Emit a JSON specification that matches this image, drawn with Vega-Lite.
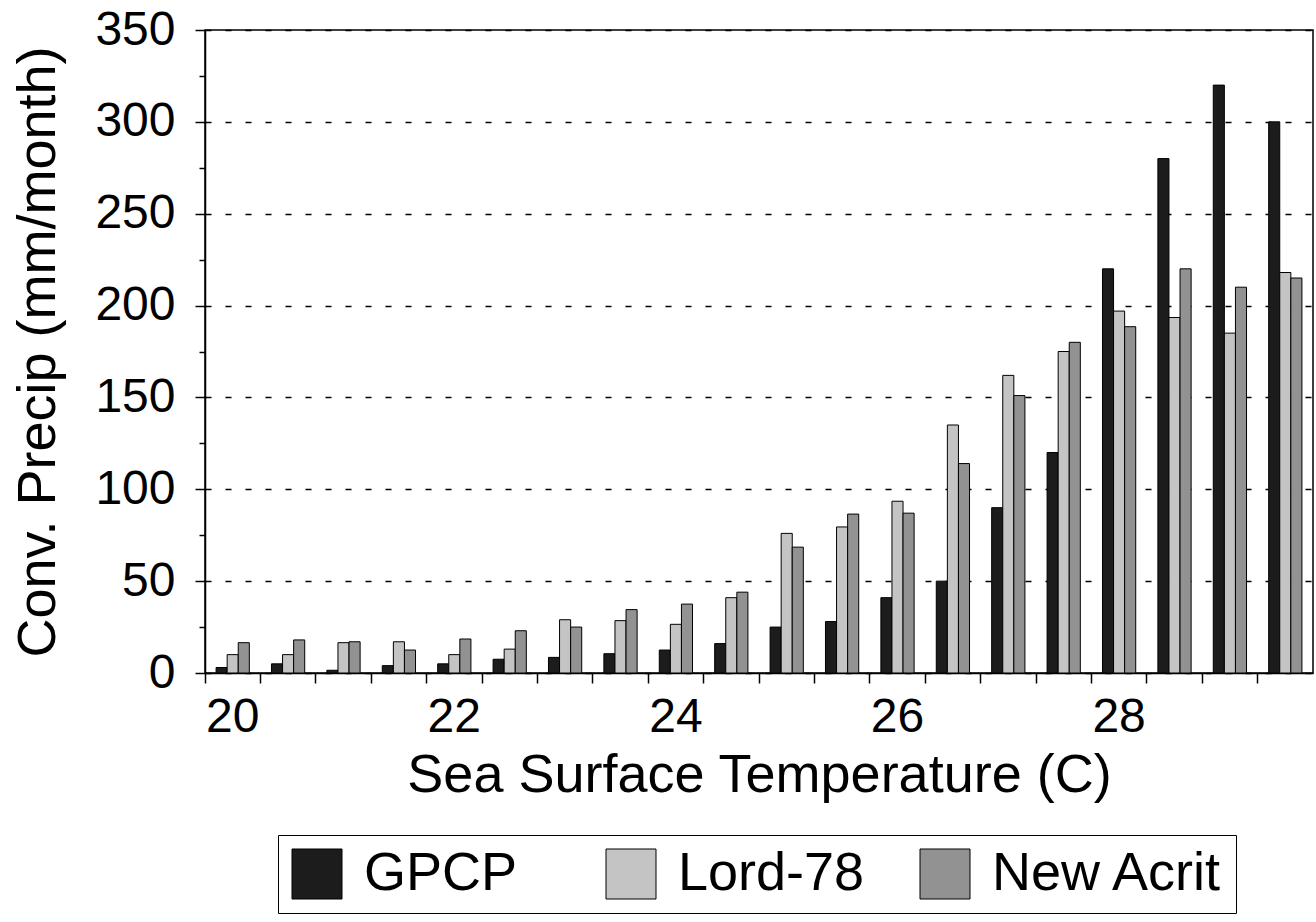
{
  "$schema": "https://vega.github.io/schema/vega-lite/v6.json",
  "width": 1108,
  "height": 643,
  "autosize": "none",
  "padding": {"left": 205, "top": 30, "right": 3, "bottom": 249},
  "background": "white",
  "config": {
    "font": "Liberation Sans",
    "view": {"stroke": "black", "strokeWidth": 1.5}
  },
  "data": {
    "values": [
      {"sst": 20.0, "series": "GPCP", "precip": 3}, {"sst": 20.0, "series": "Lord-78", "precip": 10}, {"sst": 20.0, "series": "New Acrit", "precip": 16.5},
      {"sst": 20.5, "series": "GPCP", "precip": 5}, {"sst": 20.5, "series": "Lord-78", "precip": 10}, {"sst": 20.5, "series": "New Acrit", "precip": 18},
      {"sst": 21.0, "series": "GPCP", "precip": 1.5}, {"sst": 21.0, "series": "Lord-78", "precip": 16.5}, {"sst": 21.0, "series": "New Acrit", "precip": 17},
      {"sst": 21.5, "series": "GPCP", "precip": 4}, {"sst": 21.5, "series": "Lord-78", "precip": 17}, {"sst": 21.5, "series": "New Acrit", "precip": 12.5},
      {"sst": 22.0, "series": "GPCP", "precip": 5}, {"sst": 22.0, "series": "Lord-78", "precip": 10}, {"sst": 22.0, "series": "New Acrit", "precip": 18.5},
      {"sst": 22.5, "series": "GPCP", "precip": 7.5}, {"sst": 22.5, "series": "Lord-78", "precip": 13}, {"sst": 22.5, "series": "New Acrit", "precip": 23},
      {"sst": 23.0, "series": "GPCP", "precip": 8.5}, {"sst": 23.0, "series": "Lord-78", "precip": 29}, {"sst": 23.0, "series": "New Acrit", "precip": 25},
      {"sst": 23.5, "series": "GPCP", "precip": 10.5}, {"sst": 23.5, "series": "Lord-78", "precip": 28.5}, {"sst": 23.5, "series": "New Acrit", "precip": 34.5},
      {"sst": 24.0, "series": "GPCP", "precip": 12.5}, {"sst": 24.0, "series": "Lord-78", "precip": 26.5}, {"sst": 24.0, "series": "New Acrit", "precip": 37.5},
      {"sst": 24.5, "series": "GPCP", "precip": 16}, {"sst": 24.5, "series": "Lord-78", "precip": 41}, {"sst": 24.5, "series": "New Acrit", "precip": 44},
      {"sst": 25.0, "series": "GPCP", "precip": 25}, {"sst": 25.0, "series": "Lord-78", "precip": 76}, {"sst": 25.0, "series": "New Acrit", "precip": 68.5},
      {"sst": 25.5, "series": "GPCP", "precip": 28}, {"sst": 25.5, "series": "Lord-78", "precip": 79.5}, {"sst": 25.5, "series": "New Acrit", "precip": 86.5},
      {"sst": 26.0, "series": "GPCP", "precip": 41}, {"sst": 26.0, "series": "Lord-78", "precip": 93.5}, {"sst": 26.0, "series": "New Acrit", "precip": 87},
      {"sst": 26.5, "series": "GPCP", "precip": 50}, {"sst": 26.5, "series": "Lord-78", "precip": 135}, {"sst": 26.5, "series": "New Acrit", "precip": 114},
      {"sst": 27.0, "series": "GPCP", "precip": 90}, {"sst": 27.0, "series": "Lord-78", "precip": 162}, {"sst": 27.0, "series": "New Acrit", "precip": 151},
      {"sst": 27.5, "series": "GPCP", "precip": 120}, {"sst": 27.5, "series": "Lord-78", "precip": 175}, {"sst": 27.5, "series": "New Acrit", "precip": 180},
      {"sst": 28.0, "series": "GPCP", "precip": 220}, {"sst": 28.0, "series": "Lord-78", "precip": 197}, {"sst": 28.0, "series": "New Acrit", "precip": 188.5},
      {"sst": 28.5, "series": "GPCP", "precip": 280}, {"sst": 28.5, "series": "Lord-78", "precip": 193.5}, {"sst": 28.5, "series": "New Acrit", "precip": 220},
      {"sst": 29.0, "series": "GPCP", "precip": 320}, {"sst": 29.0, "series": "Lord-78", "precip": 185}, {"sst": 29.0, "series": "New Acrit", "precip": 210},
      {"sst": 29.5, "series": "GPCP", "precip": 300}, {"sst": 29.5, "series": "Lord-78", "precip": 218}, {"sst": 29.5, "series": "New Acrit", "precip": 215}
    ]
  },
  "resolve": {"axis": {"y": "independent"}},
  "layer": [
    {
      "mark": {"type": "bar", "stroke": "black", "strokeWidth": 1},
      "encoding": {
        "x": {
          "field": "sst",
          "type": "ordinal",
          "scale": {"paddingInner": 0, "paddingOuter": 0},
          "axis": {
            "bandPosition": 0,
            "labelExpr": "datum.value % 2 === 0 ? datum.label : ''",
            "labelAngle": 0,
            "labelAlign": "center",
            "labelFontSize": 48,
            "labelColor": "black",
            "labelPadding": 10,
            "tickSize": 10,
            "tickColor": "black",
            "tickWidth": 1.5,
            "domainColor": "black",
            "domainWidth": 1.5,
            "grid": false,
            "title": "Sea Surface Temperature (C)",
            "titleFontSize": 54,
            "titleFontWeight": "normal",
            "titleColor": "black",
            "titleX": 554,
            "titleY": 102,
            "titleBaseline": "middle"
          }
        },
        "xOffset": {
          "field": "series",
          "type": "nominal",
          "scale": {"paddingInner": 0, "paddingOuter": 1}
        },
        "y": {
          "field": "precip",
          "type": "quantitative",
          "scale": {"domain": [0, 350], "nice": false},
          "axis": {
            "orient": "left",
            "values": [0, 50, 100, 150, 200, 250, 300, 350],
            "labelFontSize": 48,
            "labelColor": "black",
            "labelPadding": 20,
            "tickSize": 10,
            "tickColor": "black",
            "tickWidth": 1.5,
            "domainColor": "black",
            "domainWidth": 1.5,
            "grid": true,
            "gridColor": "black",
            "gridDash": [6, 14],
            "gridWidth": 1.5,
            "title": "Conv. Precip (mm/month)",
            "titleFontSize": 54,
            "titleFontWeight": "normal",
            "titleColor": "black",
            "titleAngle": -90,
            "titleX": -167,
            "titleY": 321.5,
            "titleAlign": "center",
            "titleBaseline": "middle"
          }
        },
        "color": {
          "field": "series",
          "type": "nominal",
          "scale": {
            "domain": ["GPCP", "Lord-78", "New Acrit"],
            "range": ["#1c1c1c", "#c4c4c4", "#929292"]
          },
          "legend": {
            "title": null,
            "orient": "none",
            "legendX": 73,
            "legendY": 805,
            "direction": "horizontal",
            "columns": 3,
            "gridAlign": "all",
            "symbolType": "square",
            "symbolSize": 2500,
            "symbolStrokeColor": "black",
            "symbolStrokeWidth": 1,
            "labelFontSize": 54,
            "labelColor": "black",
            "labelOffset": 20,
            "labelLimit": 400,
            "columnPadding": 8,
            "padding": 12,
            "strokeColor": "black",
            "fillColor": "white"
          }
        }
      }
    },
    {
      "mark": {"type": "tick", "opacity": 0},
      "encoding": {
        "y": {
          "field": "precip",
          "type": "quantitative",
          "axis": {
            "orient": "left",
            "values": [25, 75, 125, 175, 225, 275, 325],
            "labels": false,
            "domain": false,
            "grid": false,
            "title": null,
            "tickSize": 6,
            "tickColor": "black",
            "tickWidth": 1.5
          }
        }
      }
    }
  ]
}
